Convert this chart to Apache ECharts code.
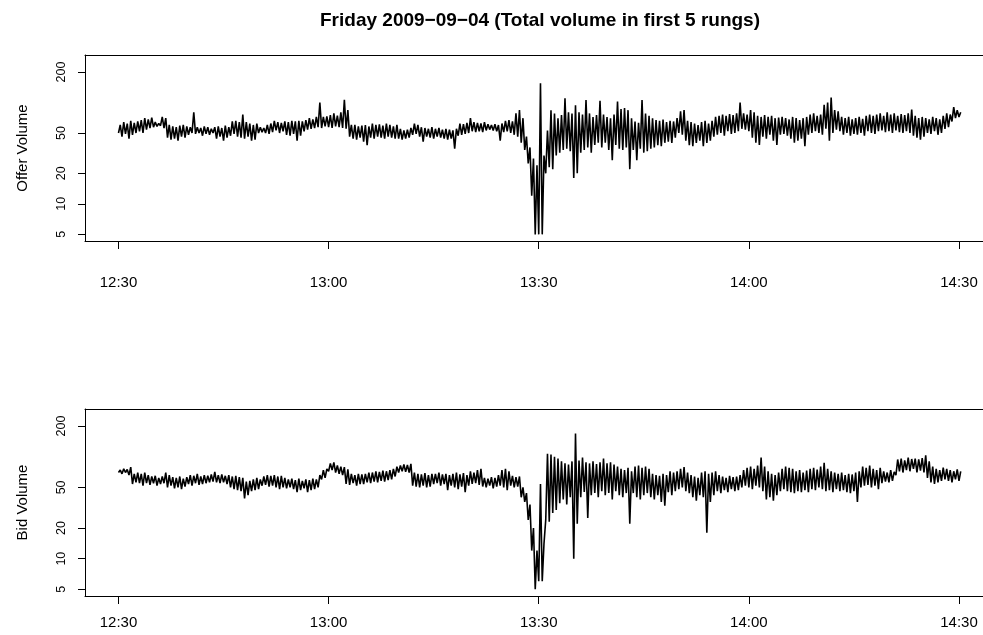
<!DOCTYPE html>
<html><head><meta charset="utf-8">
<script src="https://cdn.jsdelivr.net/npm/echarts@6/dist/echarts.min.js"></script>
<style>html,body{margin:0;padding:0;background:#fff}#c{width:983px;height:635px}</style>
</head><body><div id="c"></div>
<script>
const titleText = 'Friday 2009\u221209\u221204 (Total volume in first 5 rungs)';
const stepMinutes = 0.5; // samples every 30 s from 12:30
const xTickMinutes = [0, 30, 60, 90, 120];
const xTickLabels = ['12:30', '13:00', '13:30', '14:00', '14:30'];
const yTicks = [5, 10, 20, 50, 200];

const offerHigh = [
60,64,62,66,63,65,67,70,68,71,
64,62,72,70,60,58,57,59,60,58,
57,80,57,56,58,57,55,57,58,56,
59,57,65,66,64,76,64,62,60,62,
57,56,60,62,66,64,63,65,64,66,
65,66,65,67,70,68,72,100,72,73,
75,78,74,80,106,84,60,60,58,59,
60,58,62,60,61,59,62,60,58,60,
55,53,54,56,62,60,57,56,55,57,
55,56,54,55,54,53,55,62,61,63,
70,64,63,62,64,61,60,61,60,62,
66,67,65,78,84,70,46,36,28,24,
155,30,53,84,78,70,75,110,80,78,
94,80,76,106,78,72,75,104,76,72,
70,76,102,86,88,84,70,65,63,106,
78,74,70,67,66,68,64,66,65,70,
82,84,66,64,62,60,64,66,62,66,
72,74,76,74,77,75,78,100,78,76,
84,80,74,72,75,72,74,70,71,72,
70,68,72,70,67,70,72,76,78,74,
76,95,100,112,84,82,72,70,72,68,
70,72,69,74,76,74,76,78,74,80,
76,78,74,77,75,78,85,74,70,72,
70,68,72,70,68,74,78,76,90,84,80];

const offerLow = [
50,46,49,44,48,50,52,50,54,56,
57,58,59,56,45,43,44,42,46,45,
48,50,49,50,47,49,48,50,44,46,
42,45,47,49,46,45,44,46,42,43,
50,51,50,49,51,53,50,52,48,47,
49,42,47,52,54,55,56,57,56,58,
57,56,58,57,56,55,46,44,43,45,
41,38,45,44,46,45,44,46,45,44,
44,43,44,45,48,49,46,41,46,45,
44,46,45,44,43,44,35,47,48,49,
50,52,51,52,51,53,54,53,52,42,
51,52,50,48,46,40,34,25,12,5,
5,5,20,23,22,30,32,34,35,33,
18,20,32,34,36,32,38,40,36,40,
34,27,38,35,34,36,22,34,27,35,
32,33,35,36,38,37,40,41,40,45,
50,48,42,38,37,40,42,37,40,42,
46,48,50,47,52,49,50,52,55,54,
52,45,40,38,46,44,48,42,38,48,
49,47,44,40,42,44,37,48,50,52,
50,48,55,42,50,54,52,48,50,47,
49,48,50,47,52,50,49,52,53,51,
52,50,53,51,50,52,50,47,45,43,
46,50,49,52,48,50,55,57,65,70,72];

const bidHigh = [
74,76,75,79,68,70,68,70,66,64,
65,62,64,70,66,63,62,64,61,63,
66,65,68,64,66,65,67,71,66,67,
65,66,64,65,63,62,57,58,60,62,
60,64,66,65,66,64,65,62,60,61,
59,61,58,60,59,61,60,66,74,76,
86,88,82,80,79,75,68,66,68,67,
68,70,70,72,71,73,72,74,76,80,
82,84,83,85,70,68,67,69,66,68,
68,70,67,68,66,68,70,67,69,66,
72,70,74,76,62,61,63,62,66,74,
76,72,65,63,64,50,44,34,20,12,
54,14,107,105,100,96,90,86,84,90,
169,92,98,88,86,90,85,88,96,86,
88,84,80,76,74,78,72,80,82,78,
80,76,68,66,65,68,66,72,70,72,
76,79,70,66,64,62,70,72,68,70,
72,66,64,62,65,63,64,66,74,78,
80,76,82,98,80,72,68,66,70,76,
80,78,76,72,74,70,73,76,78,75,
80,87,76,72,70,68,70,66,68,67,
70,72,80,78,82,76,74,78,72,70,
74,71,94,96,92,98,95,96,94,97,
103,90,80,76,74,78,76,74,72,75,72];

const bidLow = [
70,68,70,66,54,56,55,52,55,53,
55,52,54,55,50,52,49,50,48,51,
54,52,55,53,54,55,56,57,56,55,
56,54,50,48,47,46,39,42,46,47,
48,52,53,51,52,50,48,50,49,50,
48,45,47,49,45,47,48,50,60,62,
72,74,70,68,66,54,53,55,52,54,
54,56,55,57,56,58,57,59,60,64,
70,72,71,70,52,51,50,52,50,51,
54,55,52,54,47,52,50,48,51,45,
52,54,55,53,51,50,52,49,51,52,
50,47,52,50,51,40,36,24,12,5,
6,6,24,23,28,30,35,38,34,40,
10,22,40,45,25,42,44,40,46,42,
44,38,46,42,40,44,22,44,40,38,
42,44,40,38,42,36,33,45,42,46,
48,50,46,44,40,37,42,40,18,36,
42,46,44,47,45,48,46,47,50,52,
50,48,52,50,46,38,40,37,42,46,
48,46,45,44,46,45,47,45,48,47,
50,48,46,47,45,48,46,47,45,44,
46,36,50,52,53,50,52,48,55,57,
56,58,66,72,70,74,72,76,70,73,
70,62,56,54,56,58,60,58,56,60,58];

const FONT = '"Liberation Sans", Arial, Helvetica, sans-serif';
const X_MIN = -4.78, X_MAX = 123.43;

function buildSeries(lo, hi) {
  const pts = [];
  for (let i = 0; i < lo.length; i++) {
    const t = i * stepMinutes;
    pts.push([t, lo[i]]);
    pts.push([t + stepMinutes / 2, hi[i]]);
  }
  return pts;
}

function xAxisFor(gi, labelMargin) {
  return {
    gridIndex: gi, type: 'value', min: X_MIN, max: X_MAX, position: 'bottom',
    axisLine: { show: true, onZero: false, lineStyle: { color: '#000', width: 1 } },
    splitLine: { show: false },
    axisTick: { show: true, customValues: xTickMinutes, length: 8, lineStyle: { color: '#000', width: 1 } },
    axisLabel: { customValues: xTickMinutes, formatter: v => xTickLabels[xTickMinutes.indexOf(v)],
      fontSize: 15, color: '#000', fontFamily: FONT, margin: labelMargin }
  };
}
function topBorderFor(gi) {
  return {
    gridIndex: gi, type: 'value', min: X_MIN, max: X_MAX, position: 'top',
    axisLine: { show: true, onZero: false, lineStyle: { color: '#000', width: 1 } },
    splitLine: { show: false }, axisTick: { show: false }, axisLabel: { show: false }
  };
}
function yAxisFor(gi, name) {
  return {
    gridIndex: gi, type: 'log', logBase: 10, min: 4.3, max: 294, position: 'left',
    axisLine: { show: true, onZero: false, lineStyle: { color: '#000', width: 1 } },
    splitLine: { show: false },
    axisTick: { show: true, customValues: yTicks, length: 7, lineStyle: { color: '#000', width: 1 } },
    axisLabel: { customValues: yTicks, rotate: 90, fontSize: 12.5, color: '#000', fontFamily: FONT, margin: 17 },
    name: name, nameLocation: 'middle', nameRotate: 90, nameGap: 55,
    nameTextStyle: { fontSize: 15, color: '#000', fontFamily: FONT }
  };
}

const chart = echarts.init(document.getElementById('c'), null, { renderer: 'canvas' });
chart.setOption({
  animation: false,
  backgroundColor: '#fff',
  graphic: [{ type: 'text', x: 540, y: 21, style: { text: titleText, textAlign: 'center', textVerticalAlign: 'middle',
    font: 'bold 19px ' + FONT, fill: '#000' } }],
  grid: [
    { left: 85, top: 55, width: 898, height: 186, show: false },
    { left: 85, top: 409, width: 898, height: 187, show: false }
  ],
  xAxis: [xAxisFor(0, 34), xAxisFor(1, 19), topBorderFor(0), topBorderFor(1)],
  yAxis: [yAxisFor(0, 'Offer Volume'), yAxisFor(1, 'Bid Volume')],
  series: [
    { type: 'line', xAxisIndex: 0, yAxisIndex: 0, data: buildSeries(offerLow, offerHigh), showSymbol: false,
      lineStyle: { color: '#000', width: 1.6 }, silent: true },
    { type: 'line', xAxisIndex: 1, yAxisIndex: 1, data: buildSeries(bidLow, bidHigh), showSymbol: false,
      lineStyle: { color: '#000', width: 1.6 }, silent: true }
  ]
});
</script></body></html>
